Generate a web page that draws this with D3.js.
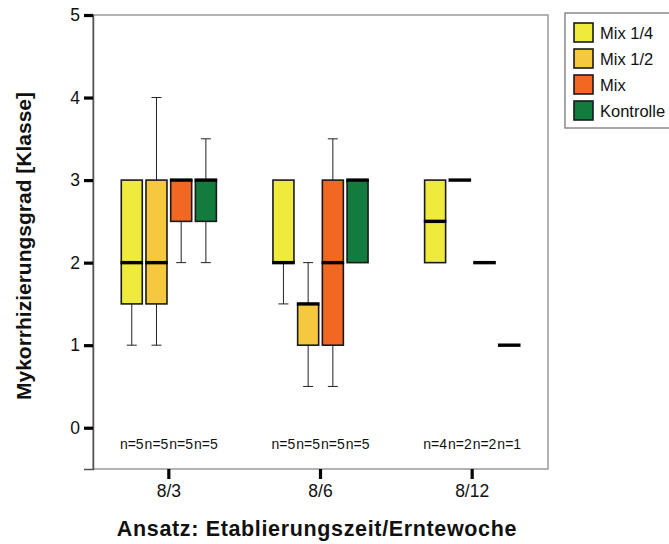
<!DOCTYPE html>
<html>
<head>
<meta charset="utf-8">
<script src="https://cdn.jsdelivr.net/npm/d3@7"></script>
<style>
  html, body { margin: 0; padding: 0; background: #fff; }
  svg { display: block; font-family: "Liberation Sans", Arial, Helvetica, sans-serif; }
</style>
</head>
<body>
<svg id="chart" width="669" height="544"></svg>
<script>
// Harvest-week groups on the x axis
const categories = ["8/3", "8/6", "8/12"];
// Treatments (one box per treatment inside each group)
const treatments = ["Mix 1/4", "Mix 1/2", "Mix", "Kontrolle"];
const treatmentColors = ["#eeeb3c", "#f5c83d", "#f26722", "#137b3e"];

// Box statistics per category: [min, q1, median, q3, max]
const mix14Stats     = [[1, 1.5, 2, 3, 3],   [1.5, 2, 2, 3, 3],     [2, 2, 2.5, 3, 3]];
const mix12Stats     = [[1, 1.5, 2, 3, 4],   [0.5, 1, 1.5, 1.5, 2], [3, 3, 3, 3, 3]];
const mixStats       = [[2, 2.5, 3, 3, 3],   [0.5, 1, 2, 3, 3.5],   [2, 2, 2, 2, 2]];
const kontrolleStats = [[2, 2.5, 3, 3, 3.5], [2, 2, 3, 3, 3],       [1, 1, 1, 1, 1]];

// Sample sizes per category, in treatment order
const sampleSizes = [[5, 5, 5, 5], [5, 5, 5, 5], [4, 2, 2, 1]];

const yTicks = [0, 1, 2, 3, 4, 5];
const yDomain = [-0.5, 5];

const seriesStats = [mix14Stats, mix12Stats, mixStats, kontrolleStats];

const svg = d3.select("#chart");
const plot = { left: 93, right: 548, top: 15, bottom: 469 };
const fontFamily = "Liberation Sans, Arial, sans-serif";

const x = d3.scaleBand().domain(categories).range([plot.left, plot.right]).padding(0);
const xSub = d3.scaleBand().domain(treatments).range([0, x.bandwidth()])
  .paddingInner(0.15).paddingOuter(1.145);
const y = d3.scaleLinear().domain(yDomain).range([plot.bottom, plot.top]);

// Plot frame
svg.append("rect")
  .attr("x", plot.left).attr("y", plot.top)
  .attr("width", plot.right - plot.left).attr("height", plot.bottom - plot.top)
  .attr("fill", "none").attr("stroke", "#9a9a9a").attr("stroke-width", 1.5);

// Y axis
const yAxis = d3.axisLeft(y).tickValues(yTicks).tickSize(9).tickPadding(4).tickFormat(d3.format("d"));
const gy = svg.append("g").attr("transform", `translate(${plot.left},0)`).call(yAxis);
gy.attr("font-family", fontFamily);
gy.select(".domain").attr("stroke", "#555").attr("stroke-width", 1.5);
gy.selectAll(".tick line").attr("stroke", "#000").attr("stroke-width", 3.2);
gy.selectAll(".tick text").attr("font-size", 17.5).attr("fill", "#111");

// X axis
const xAxis = d3.axisBottom(x).tickSize(10).tickPadding(6);
const gx = svg.append("g").attr("transform", `translate(0,${plot.bottom})`).call(xAxis);
gx.attr("font-family", fontFamily);
gx.select(".domain").remove();
gx.selectAll(".tick line").attr("stroke", "#000").attr("stroke-width", 3.2);
gx.selectAll(".tick text").attr("font-size", 17.5).attr("fill", "#111");

// Boxes
const boxData = [];
categories.forEach((c, ci) => {
  treatments.forEach((t, ti) => {
    const [mn, q1, md, q3, mx] = seriesStats[ti][ci];
    boxData.push({ c, t, ti, mn, q1, md, q3, mx, n: sampleSizes[ci][ti] });
  });
});

const bw = xSub.bandwidth();
const boxes = svg.append("g").selectAll("g").data(boxData).join("g")
  .attr("transform", d => `translate(${x(d.c) + xSub(d.t)},0)`);

// Whiskers
boxes.filter(d => d.mx > d.q3).append("line")
  .attr("x1", bw / 2).attr("x2", bw / 2)
  .attr("y1", d => y(d.q3)).attr("y2", d => y(d.mx))
  .attr("stroke", "#222").attr("stroke-width", 1);
boxes.filter(d => d.mx > d.q3).append("line")
  .attr("x1", bw / 2 - 5).attr("x2", bw / 2 + 5)
  .attr("y1", d => y(d.mx)).attr("y2", d => y(d.mx))
  .attr("stroke", "#222").attr("stroke-width", 1);
boxes.filter(d => d.mn < d.q1).append("line")
  .attr("x1", bw / 2).attr("x2", bw / 2)
  .attr("y1", d => y(d.q1)).attr("y2", d => y(d.mn))
  .attr("stroke", "#222").attr("stroke-width", 1);
boxes.filter(d => d.mn < d.q1).append("line")
  .attr("x1", bw / 2 - 5).attr("x2", bw / 2 + 5)
  .attr("y1", d => y(d.mn)).attr("y2", d => y(d.mn))
  .attr("stroke", "#222").attr("stroke-width", 1);

// Interquartile box
boxes.filter(d => d.q3 > d.q1).append("rect")
  .attr("x", 0).attr("width", bw)
  .attr("y", d => y(d.q3)).attr("height", d => y(d.q1) - y(d.q3))
  .attr("fill", d => treatmentColors[d.ti])
  .attr("stroke", "#1a1a1a").attr("stroke-width", 1.6);

// Median
boxes.append("line")
  .attr("x1", -0.8).attr("x2", bw + 0.8)
  .attr("y1", d => y(d.md)).attr("y2", d => y(d.md))
  .attr("stroke", "#000").attr("stroke-width", 3.4);

// Sample size labels
boxes.append("text")
  .attr("x", bw / 2).attr("y", y(-0.2) + 5)
  .attr("text-anchor", "middle")
  .attr("font-size", 14).attr("fill", "#111")
  .text(d => `n=${d.n}`);

// Axis titles
svg.append("text")
  .attr("x", 317).attr("y", 536)
  .attr("text-anchor", "middle").attr("font-weight", "bold")
  .attr("font-size", 21.5).attr("letter-spacing", 0.65).attr("fill", "#111")
  .text("Ansatz: Etablierungszeit/Erntewoche");

svg.append("text")
  .attr("transform", `translate(31,${(plot.top + plot.bottom) / 2 + 4}) rotate(-90)`)
  .attr("text-anchor", "middle").attr("font-weight", "bold")
  .attr("font-size", 21).attr("fill", "#111")
  .text("Mykorrhizierungsgrad [Klasse]");

// Legend
const legend = svg.append("g");
legend.append("rect")
  .attr("x", 565).attr("y", 13).attr("width", 110).attr("height", 115)
  .attr("fill", "#fff").attr("stroke", "#8a8a8a").attr("stroke-width", 1.5);
const items = legend.selectAll("g").data(treatments).join("g")
  .attr("transform", (d, i) => `translate(574,${23 + i * 26})`);
items.append("rect")
  .attr("width", 19).attr("height", 19)
  .attr("fill", (d, i) => treatmentColors[i])
  .attr("stroke", "#1a1a1a").attr("stroke-width", 1.6);
items.append("text")
  .attr("x", 26).attr("y", 15.5)
  .attr("font-size", 16.5).attr("fill", "#111")
  .text(d => d);
</script>
</body>
</html>
